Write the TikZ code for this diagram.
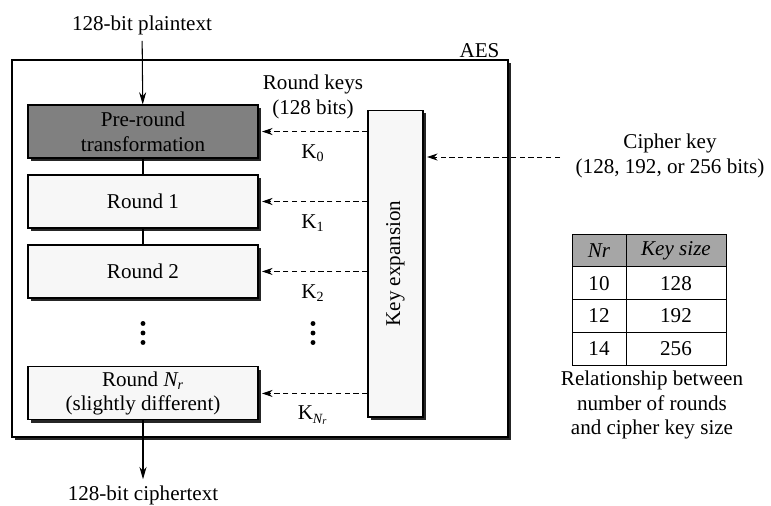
\documentclass[tikz,border=0pt]{standalone}
\usepackage{fontspec}
\setmainfont{Liberation Serif}
\usetikzlibrary{positioning, arrows.meta, shadows, matrix}

\newcommand{\figfont}{\fontsize{12}{14.2}\selectfont}

\begin{document}
\begin{tikzpicture}[x=0.02cm, y=-0.02cm, node distance=1.4cm, on grid, font=\figfont,
    boxshadow/.style={drop shadow={shadow xshift=1.5pt, shadow yshift=-1.5pt, fill=black!85, opacity=1}},
    stage/.style={draw, line width=0.6pt, fill=black!3, minimum width=4.6cm, minimum height=1.06cm,
        align=center, inner sep=1pt, boxshadow},
    keybox/.style={draw, line width=0.6pt, fill=black!3, minimum width=1.1cm, minimum height=6.14cm, boxshadow},
    flow/.style={-{Stealth[length=7pt, width=4pt]}, line width=0.6pt},
    keyarrow/.style={-{Stealth[length=6pt, width=4pt]}, densely dashed, line width=0.5pt, shorten >=2pt}]
    \useasboundingbox (0,0) rectangle (771,505);

    % AES frame
    \node[draw, line width=0.7pt, fill=white, minimum width=9.92cm, minimum height=7.54cm, boxshadow]
        (aes) at (260,248.5) {};
    \node[anchor=south east, inner sep=1pt] (aeslbl) at ([xshift=-0.14cm]aes.north east) {AES};

    % rounds
    \node (ptxt) at (142,25) {128-bit plaintext};
    \node[stage, fill=black!50] (pre) at (143,131.5) {Pre-round\\transformation};
    \node[stage] (r1) [below=of pre] {Round 1};
    \node[stage] (r2) [below=of r1] {Round 2};
    \node[inner sep=0pt] (dots) [below=1.23cm of r2] {};
    \node[stage] (rNr) [below=1.21cm of dots] {Round \textit{N\textsubscript{r}}\\(slightly different)};
    \node (ctxt) at (143,495) {128-bit ciphertext};

    \draw[flow] (ptxt) -- (pre);
    \draw[line width=0.6pt] (pre) -- (r1);
    \draw[line width=0.6pt] (r1) -- (r2);
    \draw[flow] (rNr) -- (ctxt);

    % key schedule
    \node[keybox, label={[rotate=90]center:Key expansion}] (keyexp) at (395.5,263.5) {};
    \node[align=center] (rklbl) at (313,97) {Round keys\\(128 bits)};
    \node[inner sep=0pt] (kdots) at (313,333) {};
    \foreach \c in {dots, kdots}
        \foreach \dy in {-0.19, 0, 0.19}
            \fill ([yshift=\dy cm]\c.center) circle (1.4pt);

    \draw[keyarrow] (keyexp.west |- pre.east) -- node[yshift=-0.44cm] {K\textsubscript{0}} (pre.east);
    \draw[keyarrow] (keyexp.west |- r1.east) -- node[yshift=-0.44cm] {K\textsubscript{1}} (r1.east);
    \draw[keyarrow] (keyexp.west |- r2.east) -- node[yshift=-0.44cm] {K\textsubscript{2}} (r2.east);
    \draw[keyarrow] (keyexp.west |- rNr.east) -- node[yshift=-0.44cm] {K\textsubscript{\textit{N\textsubscript{r}}}} (rNr.east);

    % cipher key
    \node[align=center] (ckey) at (670,156) {Cipher key\\(128, 192, or 256 bits)};
    \coordinate (ckin) at (560,157);
    \draw[keyarrow] (ckin) -- (keyexp.east |- ckin);

    % rounds vs key size
    \matrix (ksize) [matrix of nodes, column sep=-0.5pt, row sep=-0.5pt,
        nodes={draw, line width=0.5pt, minimum height=0.655cm, inner sep=0pt, anchor=center},
        column 1/.style={nodes={minimum width=1.08cm}},
        column 2/.style={nodes={minimum width=2cm}},
        row 1/.style={nodes={fill=black!35, font=\figfont\itshape}}] at (649,299.5) {
        Nr & Key size \\
        10 & 128 \\
        12 & 192 \\
        14 & 256 \\
    };
    \node[align=center] (kcap) at (652,405) {Relationship between\\number of rounds\\and cipher key size};
\end{tikzpicture}
\end{document}
